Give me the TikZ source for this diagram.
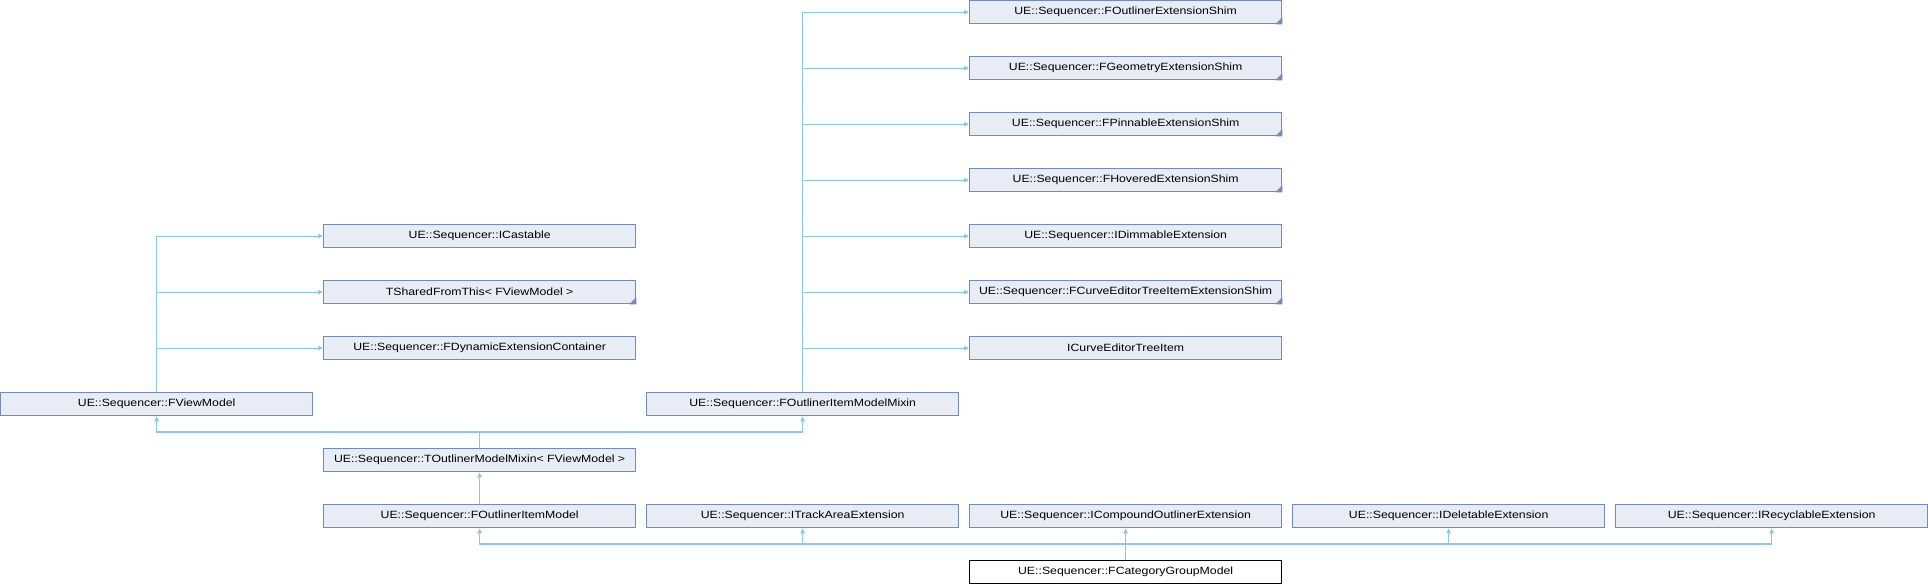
\documentclass[tikz,border=0pt]{standalone}
\usepackage{fontspec}
\setmainfont{Liberation Sans}[FakeStretch=1.17]
\usetikzlibrary{arrows.meta,calc}
\definecolor{boxfill}{HTML}{E8ECF5}
\definecolor{boxdraw}{HTML}{7189C4}
\definecolor{edgecol}{HTML}{8DC8EC}
\tikzset{
  cls/.style={draw=boxdraw, fill=boxfill, line width=1.3pt, anchor=north west,
    minimum width=312pt, minimum height=23pt, inner sep=0pt,
    font=\fontsize{10.5}{12}\selectfont, text=black},
  cur/.style={cls, draw=black, fill=white},
  edge/.style={draw=edgecol, line width=1.2pt},
  arr/.style={edge, -{Triangle[width=4.5pt,length=5pt,fill=edgecol]}},
  corner/.style={fill=boxdraw}
}
\newcommand{\mycorner}[1]{\fill[corner] (#1.south east) -- ++(-7,0) -- ++(7,-7) -- cycle;}
\begin{document}
\begin{tikzpicture}[x=1pt,y=-1pt]
\useasboundingbox (0,0) rectangle (1928,584);
% column D
\node[cls] (oes) at (969,0)   {UE::Sequencer::FOutlinerExtensionShim};
\node[cls] (ges) at (969,56)  {UE::Sequencer::FGeometryExtensionShim};
\node[cls] (pes) at (969,112) {UE::Sequencer::FPinnableExtensionShim};
\node[cls] (hes) at (969,168) {UE::Sequencer::FHoveredExtensionShim};
\node[cls] (dim) at (969,224) {UE::Sequencer::IDimmableExtension};
\node[cls] (ces) at (969,280) {UE::Sequencer::FCurveEditorTreeItemExtensionShim};
\node[cls] (cti) at (969,336) {ICurveEditorTreeItem};
% column B top
\node[cls] (cast) at (323,224) {UE::Sequencer::ICastable};
\node[cls] (sft)  at (323,280) {TSharedFromThis< FViewModel >};
\node[cls] (dec)  at (323,336) {UE::Sequencer::FDynamicExtensionContainer};
% row 7
\node[cls] (vm)  at (0,392)   {UE::Sequencer::FViewModel};
\node[cls] (mix) at (646,392) {UE::Sequencer::FOutlinerItemModelMixin};
% row 8
\node[cls] (tom) at (323,448) {UE::Sequencer::TOutlinerModelMixin< FViewModel >};
% row 9
\node[cls] (oim) at (323,504)  {UE::Sequencer::FOutlinerItemModel};
\node[cls] (tae) at (646,504)  {UE::Sequencer::ITrackAreaExtension};
\node[cls] (coe) at (969,504)  {UE::Sequencer::ICompoundOutlinerExtension};
\node[cls] (del) at (1292,504) {UE::Sequencer::IDeletableExtension};
\node[cls] (rec) at (1615,504) {UE::Sequencer::IRecyclableExtension};
% row 10
\node[cur] (cg) at (969,560) {UE::Sequencer::FCategoryGroupModel};
% corner markers
\mycorner{oes}\mycorner{ges}\mycorner{pes}\mycorner{hes}\mycorner{ces}\mycorner{sft}
% FViewModel bases
\draw[arr] (vm.north) |- (cast.west);
\draw[arr] (vm.north) |- (sft.west);
\draw[arr] (vm.north) |- (dec.west);
% mixin bases
\foreach \t in {oes,ges,pes,hes,dim,ces,cti}
  \draw[arr] (mix.north) |- (\t.west);
% TOutlinerModelMixin bases
\coordinate (j1) at ($(tom.north)+(0,-16)$);
\draw[edge] (tom.north) -- (j1);
\draw[arr] (j1) -| (vm.south);
\draw[arr] (j1) -| (mix.south);
% FOutlinerItemModel -> TOutlinerModelMixin
\draw[arr] (oim.north) -- (tom.south);
% FCategoryGroupModel bases
\coordinate (j2) at ($(cg.north)+(0,-16)$);
\draw[edge] (cg.north) -- (j2);
\foreach \t in {oim,tae,coe,del,rec}
  \draw[arr] (j2) -| (\t.south);
\end{tikzpicture}
\end{document}
